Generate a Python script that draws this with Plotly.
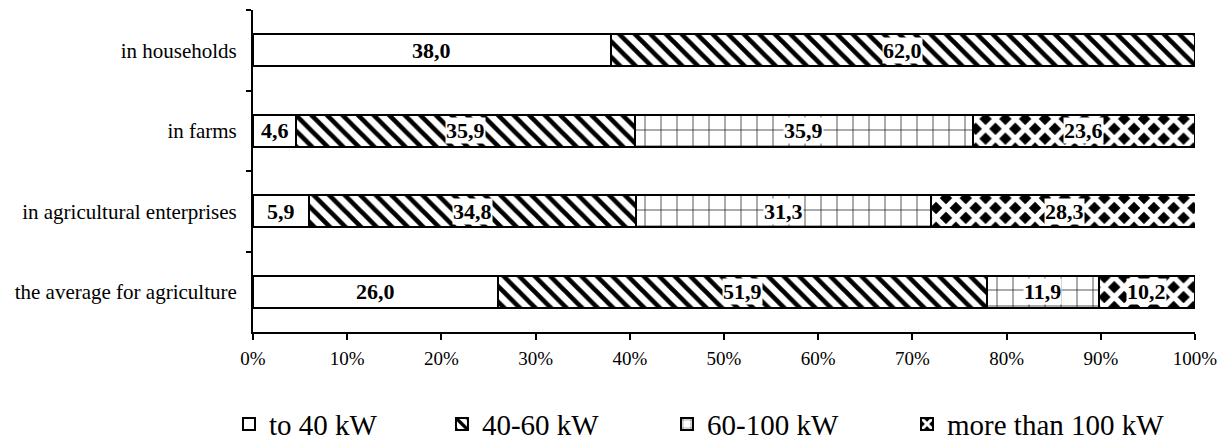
import plotly.graph_objects as go

# Structure of tractor fleet by engine power, % of total
categories = ["in households", "in farms", "in agricultural enterprises", "the average for agriculture"]
series_names = ["to 40 kW", "40-60 kW", "60-100 kW", "more than 100 kW"]
to_40 = [38.0, 4.6, 5.9, 26.0]
from_40_60 = [62.0, 35.9, 34.8, 51.9]
from_60_100 = [None, 35.9, 31.3, 11.9]
over_100 = [None, 23.6, 28.3, 10.2]
x_ticks = [0, 10, 20, 30, 40, 50, 60, 70, 80, 90, 100]

series = [to_40, from_40_60, from_60_100, over_100]
patterns = [
    dict(shape="", fillmode="replace"),
    dict(shape="\\", size=11, solidity=0.42, fgcolor="black", bgcolor="white", fillmode="replace"),
    dict(shape="+", size=16, solidity=0.08, fgcolor="black", bgcolor="white", fillmode="replace"),
    dict(shape="x", size=14, solidity=0.6, fgcolor="white", bgcolor="black", fillmode="replace"),
]

serif = "Liberation Serif, Times New Roman, serif"
# one legend per series so each entry sits at its own place in the row
legend_ids = ["legend", "legend2", "legend3", "legend4"]
legend_x = [-0.0255, 0.2006, 0.4395, 0.6943]

fig = go.Figure()
for name, vals, pat, lid in zip(series_names, series, patterns, legend_ids):
    fig.add_trace(go.Bar(
        y=categories, x=vals, name=name, orientation="h", width=0.4,
        marker=dict(color="white", line=dict(color="black", width=2), pattern=pat),
        hoverinfo="skip", legend=lid,
    ))

# value labels centred in each segment, on a white box
for i, cat in enumerate(categories):
    start = 0.0
    for vals in series:
        v = vals[i]
        if v is None:
            continue
        fig.add_annotation(
            x=start + v / 2, y=cat, text="<b>" + f"{v:.1f}".replace(".", ",") + "</b>",
            showarrow=False, bgcolor="white", borderpad=0,
            font=dict(family=serif, size=22, color="black"),
        )
        start += v

legend_style = dict(
    orientation="h", xanchor="left", y=-0.286, yanchor="middle",
    font=dict(family=serif, size=29, color="black"), itemwidth=30,
    bgcolor="rgba(0,0,0,0)",
)
layout_legends = {lid: dict(legend_style, x=lx) for lid, lx in zip(legend_ids, legend_x)}

fig.update_layout(
    barmode="stack",
    width=1223, height=443,
    margin=dict(l=253, r=28, t=10, b=111, autoexpand=False),
    paper_bgcolor="white", plot_bgcolor="white",
    font=dict(family=serif, size=21, color="black"),
    showlegend=True,
    **layout_legends,
)
fig.update_xaxes(
    range=[0, 100], tickvals=x_ticks, ticktext=[f"{t}%" for t in x_ticks],
    showgrid=False, zeroline=False, showline=True, linecolor="black", linewidth=2,
    ticks="outside", ticklen=6, tickwidth=2, tickcolor="black",
    ticklabelstandoff=2, tickfont=dict(family=serif, size=19),
)
fig.update_yaxes(
    autorange="reversed", showgrid=False, showline=True, linecolor="black", linewidth=2,
    ticks="outside", tickson="boundaries", ticklen=5, tickwidth=2, tickcolor="black",
    ticklabelstandoff=10, tickfont=dict(family=serif, size=21),
)

fig.write_html("out.html")
